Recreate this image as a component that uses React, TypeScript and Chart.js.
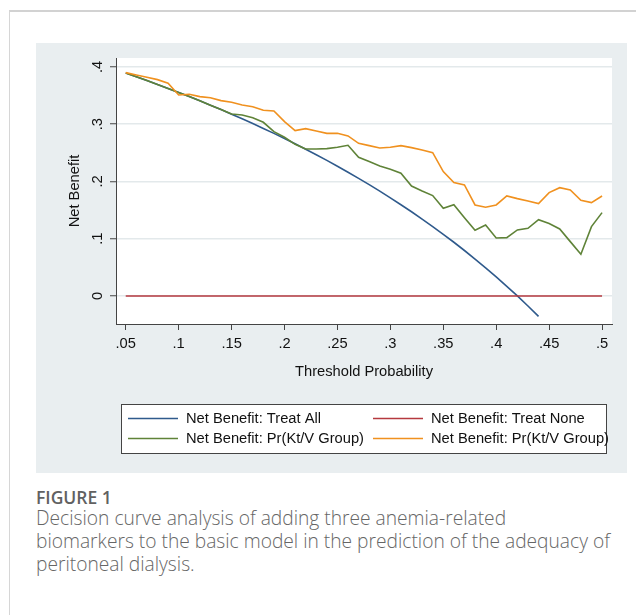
import React, { useEffect, useRef } from "react";
import { Chart, registerables } from "chart.js";

Chart.register(...registerables);

// ---------- data ----------
const thresholds = [
  0.05, 0.06, 0.07, 0.08, 0.09, 0.1, 0.11, 0.12, 0.13, 0.14,
  0.15, 0.16, 0.17, 0.18, 0.19, 0.2, 0.21, 0.22, 0.23, 0.24,
  0.25, 0.26, 0.27, 0.28, 0.29, 0.3, 0.31, 0.32, 0.33, 0.34,
  0.35, 0.36, 0.37, 0.38, 0.39, 0.4, 0.41, 0.42, 0.43, 0.44,
  0.45, 0.46, 0.47, 0.48, 0.49, 0.5,
];

// Net benefit: treat all (0.05 .. 0.44)
const treatAll = [
  0.3895, 0.383, 0.3763, 0.3696, 0.3626, 0.3556, 0.3483, 0.3409, 0.3333, 0.3256,
  0.3176, 0.3095, 0.3012, 0.2927, 0.284, 0.275, 0.2658, 0.2564, 0.2468, 0.2368,
  0.2267, 0.2162, 0.2055, 0.1944, 0.1831, 0.1714, 0.1594, 0.1471, 0.1343, 0.1212,
  0.1077, 0.0938, 0.0794, 0.0645, 0.0492, 0.0333, 0.0169, 0.0, -0.0175, -0.0357,
];

// Net benefit: treat none
const treatNone = [
  0, 0, 0, 0, 0, 0, 0, 0, 0, 0,
  0, 0, 0, 0, 0, 0, 0, 0, 0, 0,
  0, 0, 0, 0, 0, 0, 0, 0, 0, 0,
  0, 0, 0, 0, 0, 0, 0, 0, 0, 0,
  0, 0, 0, 0, 0, 0,
];

// Net benefit: model (green)
const modelGreen = [
  0.3895, 0.383, 0.3763, 0.3696, 0.3626, 0.3556, 0.3483, 0.3409, 0.3333, 0.3256,
  0.318, 0.3162, 0.3115, 0.3034, 0.2871, 0.2772, 0.2649, 0.2568, 0.2568, 0.2574,
  0.2597, 0.2632, 0.2422, 0.2347, 0.2271, 0.2213, 0.2143, 0.1921, 0.1834, 0.1753,
  0.1531, 0.1595, 0.1368, 0.1147, 0.124, 0.1013, 0.1019, 0.1153, 0.1182, 0.1333,
  0.1264, 0.117, 0.0949, 0.0728, 0.1211, 0.1456,
];

// Net benefit: model (orange)
const modelOrange = [
  0.3901, 0.386, 0.382, 0.3779, 0.3715, 0.3511, 0.3523, 0.3482, 0.3464, 0.3412,
  0.3383, 0.3336, 0.3307, 0.3243, 0.3231, 0.3045, 0.2888, 0.2923, 0.2882, 0.2841,
  0.2841, 0.2795, 0.2667, 0.2626, 0.2585, 0.2597, 0.2626, 0.2591, 0.255, 0.2504,
  0.2172, 0.198, 0.1939, 0.159, 0.1549, 0.159, 0.1747, 0.17, 0.1659, 0.1613,
  0.1805, 0.1892, 0.1852, 0.1671, 0.163, 0.1747,
];

const seriesLabels = [
  "Net Benefit: Treat All",
  "Net Benefit: Treat None",
  "Net Benefit: Pr(Kt/V Group)",
  "Net Benefit: Pr(Kt/V Group)",
];

const xTicks = [0.05, 0.1, 0.15, 0.2, 0.25, 0.3, 0.35, 0.4, 0.45, 0.5];
const xTickLabels = [".05", ".1", ".15", ".2", ".25", ".3", ".35", ".4", ".45", ".5"];
const yTicks = [0, 0.1, 0.2, 0.3, 0.4];
const yTickLabels = ["0", ".1", ".2", ".3", ".4"];

const xTitle = "Threshold Probability";
const yTitle = "Net Benefit";
const figureLabel = "FIGURE 1";
const captionLines = [
  "Decision curve analysis of adding three anemia-related",
  "biomarkers to the basic model in the prediction of the adequacy of",
  "peritoneal dialysis.",
];

// ---------- styles ----------
const COLORS = ["#2f5a8c", "#b5393f", "#5f8338", "#f0911f"];
const PANEL_BG = "#e9eef0";
const FONT = "'Liberation Sans', Arial, Helvetica, sans-serif";
const FS = 14.7;

const toPoints = (arr: number[]) =>
  arr.map((v, i) => ({ x: thresholds[i], y: v }));

const panelPlugin = {
  id: "panelPlugin",
  beforeDraw(chart: any) {
    const { ctx, chartArea, width, height } = chart;
    ctx.save();
    ctx.fillStyle = PANEL_BG;
    ctx.fillRect(0, 0, width, height);
    ctx.fillStyle = "#ffffff";
    ctx.fillRect(
      chartArea.left,
      chartArea.top,
      chartArea.right - chartArea.left,
      chartArea.bottom - chartArea.top
    );
    ctx.restore();
  },
  afterDraw(chart: any) {
    const { ctx } = chart;
    const box = { x: 85.5, y: 361.5, w: 485, h: 49 };
    ctx.save();
    ctx.fillStyle = "#ffffff";
    ctx.fillRect(box.x, box.y, box.w, box.h);
    ctx.strokeStyle = "#444444";
    ctx.lineWidth = 1;
    ctx.strokeRect(box.x, box.y, box.w, box.h);
    const cols = [92, 337];
    const rows = [375.5, 395.5];
    ctx.font = `${FS}px ${FONT}`;
    ctx.textBaseline = "middle";
    ctx.textAlign = "left";
    chart.data.datasets.forEach((ds: any, i: number) => {
      const cx = cols[i % 2];
      const cy = rows[Math.floor(i / 2)];
      ctx.strokeStyle = ds.borderColor;
      ctx.lineWidth = 1.6;
      ctx.beginPath();
      ctx.moveTo(cx, cy);
      ctx.lineTo(cx + 50, cy);
      ctx.stroke();
      ctx.fillStyle = "#111111";
      ctx.fillText(ds.label, cx + 58, cy + 0.5);
    });
    ctx.restore();
  },
};

export default function App() {
  const canvasRef = useRef<HTMLCanvasElement | null>(null);

  useEffect(() => {
    if (!canvasRef.current) return;
    const series = [treatAll, treatNone, modelGreen, modelOrange];
    const chart = new Chart(canvasRef.current, {
      type: "line",
      data: {
        datasets: series.map((arr, i) => ({
          label: seriesLabels[i],
          data: toPoints(arr),
          borderColor: COLORS[i],
          backgroundColor: COLORS[i],
          borderWidth: 1.6,
          pointRadius: 0,
          tension: 0,
          fill: false,
          order: 4 - i,
        })),
      },
      options: {
        responsive: false,
        animation: false,
        devicePixelRatio: 1,
        layout: { padding: { left: 0, right: 15, top: 15, bottom: 89 } },
        plugins: {
          legend: { display: false },
          tooltip: { enabled: false },
        },
        scales: {
          x: {
            type: "linear",
            min: 0.0408,
            max: 0.5094,
            afterBuildTicks: (scale: any) => {
              scale.ticks = xTicks.map((v) => ({ value: v }));
            },
            afterFit: (scale: any) => {
              scale.height = 60;
            },
            ticks: {
              callback: (_v: any, idx: number) => xTickLabels[idx],
              color: "#111111",
              font: { family: FONT, size: FS },
              padding: 5,
              maxRotation: 0,
              minRotation: 0,
            },
            grid: {
              display: true,
              drawOnChartArea: false,
              drawTicks: true,
              tickLength: 6,
              tickColor: "#444444",
              tickWidth: 1,
            },
            border: { display: true, color: "#444444", width: 1 },
            title: {
              display: true,
              text: xTitle,
              color: "#111111",
              font: { family: FONT, size: FS },
              padding: { top: 0, bottom: 3 },
            },
          },
          y: {
            type: "linear",
            min: -0.049,
            max: 0.4157,
            afterBuildTicks: (scale: any) => {
              scale.ticks = yTicks.map((v) => ({ value: v }));
            },
            afterFit: (scale: any) => {
              scale.width = 80;
            },
            ticks: {
              callback: (_v: any, idx: number) => yTickLabels[idx],
              color: "#111111",
              font: { family: FONT, size: FS },
              padding: 6,
              minRotation: 90,
              maxRotation: 90,
              crossAlign: "center",
            },
            grid: {
              display: true,
              drawOnChartArea: true,
              drawTicks: true,
              tickLength: 6,
              color: "#e3e9eb",
              lineWidth: 1.5,
              tickColor: "#444444",
              tickWidth: 1,
            },
            border: { display: true, color: "#444444", width: 1 },
            title: {
              display: true,
              text: yTitle,
              color: "#111111",
              font: { family: FONT, size: FS },
              padding: { top: 30, bottom: 0 },
            },
          },
        },
      } as any,
      plugins: [panelPlugin],
    });
    return () => chart.destroy();
  }, []);

  return (
    <div
      style={{
        position: "relative",
        width: 636,
        height: 607,
        overflow: "hidden",
        background: "#ffffff",
      }}
    >
      <div
        style={{
          position: "absolute",
          left: 1,
          top: 2,
          width: 700,
          height: 700,
          borderTop: "2px solid #d2d2d2",
          borderLeft: "1px solid #d6d6d6",
        }}
      />
      <canvas
        ref={canvasRef}
        width={591}
        height={430}
        style={{ position: "absolute", left: 28, top: 35, width: 591, height: 430 }}
      />
      <div
        style={{
          position: "absolute",
          left: 28,
          top: 478,
          fontFamily: "'Open Sans', Lato, sans-serif",
          fontSize: 17.5,
          lineHeight: "22px",
          fontWeight: 600,
          color: "#616161",
          whiteSpace: "nowrap",
        }}
      >
        {figureLabel}
      </div>
      <div
        style={{
          position: "absolute",
          left: 28,
          top: 498,
          fontFamily: "'Open Sans', Lato, sans-serif",
          fontSize: 19.2,
          lineHeight: "23px",
          fontWeight: 300,
          color: "#666666",
          whiteSpace: "nowrap",
        }}
      >
        {captionLines.map((l, i) => (
          <div key={i}>{l}</div>
        ))}
      </div>
    </div>
  );
}
